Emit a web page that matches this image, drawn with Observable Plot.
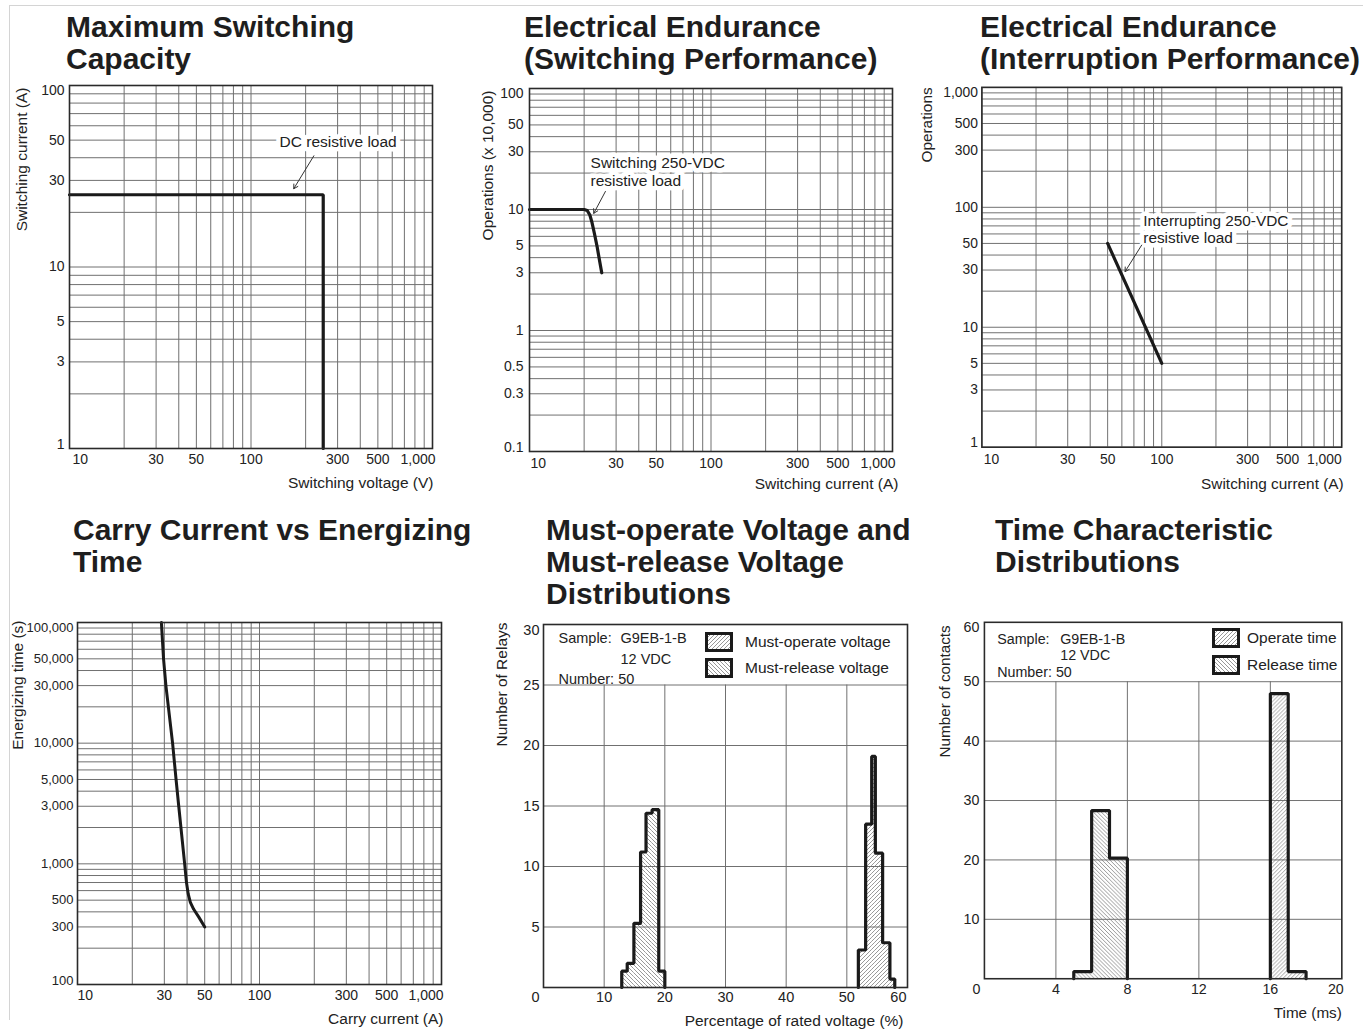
<!DOCTYPE html>
<html><head><meta charset="utf-8">
<script src="https://cdn.jsdelivr.net/npm/d3@7"></script>
<script src="https://cdn.jsdelivr.net/npm/@observablehq/plot@0.6"></script>
<style>
html,body{margin:0;padding:0;background:#fff;overflow:hidden;}
#page{position:relative;width:1363px;height:1031px;overflow:hidden;font-family:"Liberation Sans",Arial,sans-serif;color:#222;}
.title{position:absolute;font-weight:bold;font-size:30px;line-height:32px;white-space:nowrap;color:#1e1e1e;}
.panel{position:absolute;line-height:0;}
.leg{position:absolute;font-size:15.5px;line-height:18px;white-space:nowrap;color:#222;}
.sw{position:absolute;width:28px;height:20px;}
.border{position:absolute;left:9px;top:5px;width:1354px;height:1014px;border-left:1px solid #d4d4d4;border-top:1px solid #d4d4d4;}
</style></head>
<body>
<svg width="0" height="0" style="position:absolute">
  <defs>
    <pattern id="hatchF" patternUnits="userSpaceOnUse" width="4" height="4">
      <rect width="4" height="4" fill="#fff"/>
      <path d="M-1,1 l2,-2 M0,4 l4,-4 M3,5 l2,-2" stroke="#8c8c8c" stroke-width="0.9"/>
    </pattern>
    <pattern id="hatchB" patternUnits="userSpaceOnUse" width="4" height="4">
      <rect width="4" height="4" fill="#fff"/>
      <path d="M-1,3 l2,2 M0,0 l4,4 M3,-1 l2,2" stroke="#8c8c8c" stroke-width="0.9"/>
    </pattern>
  </defs>
</svg>
<div id="page"><div class="border"></div></div>
<script>
// ================= DATA =================
// Panel 1: Maximum Switching Capacity
const p1Title = ["Maximum Switching", "Capacity"];
const p1XDomain = [10, 1000];
const p1YDomain = [1, 100];
const p1XTicks = [10, 30, 50, 100, 300, 500, 1000];
const p1YTicks = [1, 3, 5, 10, 30, 50, 100];
const p1Voltage = [10, 250, 250];
const p1Current = [25, 25, 1];
const p1Note = "DC resistive load";
const p1NoteAt = [302, 49.4];
const p1Arrow = [222, 41, 172, 27];
const p1XLabel = "Switching voltage (V)";
const p1YLabel = "Switching current (A)";

// Panel 2: Electrical Endurance (Switching Performance)
const p2Title = ["Electrical Endurance", "(Switching Performance)"];
const p2XDomain = [10, 1000];
const p2YDomain = [0.1, 100];
const p2XTicks = [10, 30, 50, 100, 300, 500, 1000];
const p2YTicks = [0.1, 0.3, 0.5, 1, 3, 5, 10, 30, 50, 100];
const p2Current = [10, 20, 20.8, 21.5, 22.1, 22.8, 23.6, 24.3, 25];
const p2Operations = [10, 10, 9.8, 9.0, 7.8, 6.3, 4.9, 3.8, 3];
const p2Note = "Switching 250-VDC\nresistive load";
const p2NoteAt = [21.7, 20.6];
const p2Arrow = [26.2, 14.1, 22.6, 9.3];
const p2XLabel = "Switching current (A)";
const p2YLabel = "Operations (x 10,000)";

// Panel 3: Electrical Endurance (Interruption Performance)
const p3Title = ["Electrical Endurance", "(Interruption Performance)"];
const p3XDomain = [10, 1000];
const p3YDomain = [1, 1000];
const p3XTicks = [10, 30, 50, 100, 300, 500, 1000];
const p3YTicks = [1, 3, 5, 10, 30, 50, 100, 300, 500, 1000];
const p3Current = [50, 100];
const p3Operations = [50, 5];
const p3Note = "Interrupting 250-VDC\nresistive load";
const p3NoteAt = [78.9, 65.7];
const p3Arrow = [77.3, 48.4, 62.5, 29.1];
const p3XLabel = "Switching current (A)";
const p3YLabel = "Operations";

// Panel 4: Carry Current vs Energizing Time
const p4Title = ["Carry Current vs Energizing", "Time"];
const p4XDomain = [10, 1000];
const p4YDomain = [100, 100000];
const p4XTicks = [10, 30, 50, 100, 300, 500, 1000];
const p4YTicks = [100, 300, 500, 1000, 3000, 5000, 10000, 30000, 50000, 100000];
const p4Current = [28.9, 29.7, 30.6, 33.3, 34.8, 36, 38.8, 39.7, 40.6, 41.7, 43.5, 46.5, 50];
const p4Time = [100000, 50000, 30000, 10000, 5000, 3000, 1000, 700, 560, 480, 420, 360, 300];
const p4XLabel = "Carry current (A)";
const p4YLabel = "Energizing time (s)";

// Panel 5: Must-operate / Must-release voltage distributions
const p5Title = ["Must-operate Voltage and", "Must-release Voltage", "Distributions"];
const p5XDomain = [0, 60];
const p5YDomain = [0, 30];
const p5XTicks = [0, 10, 20, 30, 40, 50, 60];
const p5YTicks = [5, 10, 15, 20, 25, 30];
const p5GridX = [10, 20, 30, 40, 50];
const p5GridY = [5, 10, 15, 20, 25];
const p5GridTop = 25;
const p5ReleaseEdges = [12.9, 13.8, 14.9, 16.0, 16.9, 17.9, 19.0, 20.0];
const p5ReleaseCounts = [1.35, 2.0, 5.3, 11.2, 14.4, 14.7, 1.35];
const p5OperateEdges = [51.9, 53.1, 54.1, 54.7, 55.9, 57.1, 57.9];
const p5OperateCounts = [3.1, 13.5, 19.1, 11.1, 3.7, 0.7];
const p5Legend = ["Must-operate voltage", "Must-release voltage"];
const p5XLabel = "Percentage of rated voltage (%)";
const p5YLabel = "Number of Relays";

// Panel 6: Time characteristic distributions
const p6Title = ["Time Characteristic", "Distributions"];
const p6XDomain = [0, 20];
const p6YDomain = [0, 60];
const p6XTicks = [0, 4, 8, 12, 16, 20];
const p6YTicks = [10, 20, 30, 40, 50, 60];
const p6GridX = [4, 8, 12, 16];
const p6GridY = [10, 20, 30, 40, 50];
const p6GridTop = 50;
const p6ReleaseEdges = [5, 6, 7, 8];
const p6ReleaseCounts = [1.2, 28.3, 20.3];
const p6OperateEdges = [16, 17, 18];
const p6OperateCounts = [48, 1.2];
const p6Legend = ["Operate time", "Release time"];
const p6XLabel = "Time (ms)";
const p6YLabel = "Number of contacts";

const sampleLines = ["Sample:", "G9EB-1-B", "12 VDC", "Number: 50"];

// ================= HELPERS =================
const ML = 70, MT = 12, MR = 22, MB = 52;
const fmt = d3.format(",");
const GRID = "#707070";
const INK = "#1a1a1a";
const TXT = "#222";
const page = document.getElementById("page");

function addTitle(lines, x, y) {
  const d = document.createElement("div");
  d.className = "title";
  d.style.left = x + "px"; d.style.top = y + "px";
  d.innerHTML = lines.join("<br>");
  page.appendChild(d);
}
function addPlot(svg, frameLeft, frameTop) {
  const d = document.createElement("div");
  d.className = "panel";
  d.style.left = (frameLeft - ML) + "px"; d.style.top = (frameTop - MT) + "px";
  d.appendChild(svg);
  page.appendChild(d);
}
function addLegend(items, patterns, swLeft, swTops, textLeft) {
  items.forEach((t, i) => {
    const s = document.createElement("div");
    s.className = "sw";
    s.style.left = swLeft + "px"; s.style.top = swTops[i] + "px";
    s.innerHTML = `<svg width="28" height="20"><rect x="1.5" y="1.5" width="25" height="17" fill="url(#${patterns[i]})" stroke="${INK}" stroke-width="3"/></svg>`;
    page.appendChild(s);
    const l = document.createElement("div");
    l.className = "leg";
    l.style.left = textLeft + "px"; l.style.top = (swTops[i] + 1) + "px";
    l.textContent = t;
    page.appendChild(l);
  });
}
function xTickText(ticks, o = {}) {
  const {dy = 11, firstAnchor = "start", lastAnchor = "end", firstDx = 0, lastDx = 0, fontSize = 14, fontFamily} = o;
  const c = {x: d => d, frameAnchor: "bottom", dy, lineAnchor: "middle", text: d => fmt(d), fontSize, fill: TXT};
  if (fontFamily) c.fontFamily = fontFamily;
  return [
    Plot.text(ticks.slice(0, 1), {...c, textAnchor: firstAnchor, dx: firstDx}),
    Plot.text(ticks.slice(1, -1), {...c, textAnchor: "middle"}),
    Plot.text(ticks.slice(-1), {...c, textAnchor: lastAnchor, dx: lastDx})
  ];
}
function yTickText(ticks, o = {}) {
  const {dx = -5, firstAnchor = "bottom", lastAnchor = "top", fontSize = 14, fontFamily} = o;
  const c = {y: d => d, frameAnchor: "left", dx, textAnchor: "end", text: d => fmt(d), fontSize, fill: TXT};
  if (fontFamily) c.fontFamily = fontFamily;
  return [
    Plot.text(ticks.slice(0, 1), {...c, lineAnchor: firstAnchor}),
    Plot.text(ticks.slice(1, -1), {...c, lineAnchor: "middle"}),
    Plot.text(ticks.slice(-1), {...c, lineAnchor: lastAnchor})
  ];
}
function yLabel(text, dx, dy) {
  return Plot.text([text], {text: d => d, frameAnchor: "top-left", rotate: -90, textAnchor: "end", lineAnchor: "middle", dx, dy, fontSize: 15.5, fill: TXT});
}
function xLabel(text, dx, dy) {
  return Plot.text([text], {text: d => d, frameAnchor: "bottom-right", textAnchor: "end", lineAnchor: "middle", dx, dy, fontSize: 15.5, fill: TXT});
}
function rows(xs, ys) { return xs.map((x, i) => ({x, y: ys[i]})); }
function note(text, at, anchor) {
  return Plot.text([text], {x: () => at[0], y: () => at[1], text: d => d, textAnchor: anchor, lineAnchor: "middle",
    lineHeight: 1.1, fontSize: 15.5, fill: TXT, stroke: "white", strokeWidth: 9});
}
function arrow(a) {
  return Plot.arrow([a], {x1: d => d[0], y1: d => d[1], x2: d => d[2], y2: d => d[3], stroke: "#333", strokeWidth: 1, headLength: 7});
}
function base(fw, fh, xScale, yScale, marks) {
  return Plot.plot({
    width: ML + fw + MR, height: MT + fh + MB,
    marginLeft: ML, marginRight: MR, marginTop: MT, marginBottom: MB,
    x: {...xScale, axis: null}, y: {...yScale, axis: null},
    style: {fontFamily: '"Liberation Sans", Arial, sans-serif', fontSize: "14px", color: TXT, background: "transparent", overflow: "visible"},
    marks
  });
}
function logGrid(xd, yd) {
  return [
    Plot.ruleX(d3.scaleLog().domain(xd).ticks(), {x: d => d, stroke: GRID, strokeWidth: 1}),
    Plot.ruleY(d3.scaleLog().domain(yd).ticks(), {y: d => d, stroke: GRID, strokeWidth: 1})
  ];
}
function bins(edges, counts) { return counts.map((c, i) => ({x1: edges[i], x2: edges[i + 1], y: c})); }
function outline(edges, counts) {
  const pts = [{x: edges[0], y: 0}];
  counts.forEach((c, i) => pts.push({x: edges[i], y: c}, {x: edges[i + 1], y: c}));
  pts.push({x: edges[edges.length - 1], y: 0});
  return pts;
}
function sampleText(pos) {
  return sampleLines.map((t, i) => Plot.text([t], {text: d => d, frameAnchor: "top-left", textAnchor: "start", lineAnchor: "middle",
    dx: pos[i][0], dy: pos[i][1], fontSize: 14.5, fill: TXT}));
}
const frame = Plot.frame({stroke: "#2a2a2a", strokeWidth: 1.6});

// ================= PANEL 1 =================
addTitle(p1Title, 66, 11);
addPlot(base(363, 363, {type: "log", domain: p1XDomain}, {type: "log", domain: p1YDomain}, [
  ...logGrid(p1XDomain, p1YDomain),
  Plot.line(rows(p1Voltage, p1Current), {x: "x", y: "y", stroke: INK, strokeWidth: 3.2, strokeLinejoin: "miter"}),
  note(p1Note, p1NoteAt, "middle"),
  arrow(p1Arrow),
  frame,
  ...xTickText(p1XTicks, {dy: 11, firstDx: 3, lastDx: 3}),
  ...yTickText(p1YTicks, {dx: -5}),
  xLabel(p1XLabel, 1, 35),
  yLabel(p1YLabel, -47, 2)
]), 69, 85);

// ================= PANEL 2 =================
addTitle(p2Title, 524, 11);
addPlot(base(363, 363, {type: "log", domain: p2XDomain}, {type: "log", domain: p2YDomain}, [
  ...logGrid(p2XDomain, p2YDomain),
  Plot.line(rows(p2Current, p2Operations), {x: "x", y: "y", stroke: INK, strokeWidth: 3.2}),
  note(p2Note, p2NoteAt, "start"),
  arrow(p2Arrow),
  frame,
  ...xTickText(p2XTicks, {dy: 12, firstDx: 1, lastDx: 3}),
  ...yTickText(p2YTicks, {dx: -6}),
  xLabel(p2XLabel, 6, 33),
  yLabel(p2YLabel, -41, 2)
]), 529, 88);

// ================= PANEL 3 =================
addTitle(p3Title, 980, 11);
addPlot(base(363, 363, {type: "log", domain: p3XDomain}, {type: "log", domain: p3YDomain}, [
  ...logGrid(p3XDomain, p3YDomain),
  Plot.line(rows(p3Current, p3Operations), {x: "x", y: "y", stroke: INK, strokeWidth: 3.2}),
  note(p3Note, p3NoteAt, "start"),
  arrow(p3Arrow),
  frame,
  ...xTickText(p3XTicks, {dy: 12, firstDx: 2, lastDx: 0}),
  ...yTickText(p3YTicks, {dx: -4}),
  xLabel(p3XLabel, 2, 37),
  yLabel(p3YLabel, -55, 0)
]), 982, 87);

// ================= PANEL 4 =================
addTitle(p4Title, 73, 514);
const narrow = '"Liberation Sans Narrow", "Liberation Sans", Arial, sans-serif';
addPlot(base(364, 362, {type: "log", domain: p4XDomain}, {type: "log", domain: p4YDomain}, [
  ...logGrid(p4XDomain, p4YDomain),
  Plot.line(rows(p4Current, p4Time), {x: "x", y: "y", stroke: INK, strokeWidth: 3}),
  frame,
  ...xTickText(p4XTicks, {dy: 11, firstDx: 0, lastDx: 2}),
  ...yTickText(p4YTicks, {dx: -4, fontSize: 13, fontFamily: narrow}),
  xLabel(p4XLabel, 2, 35),
  yLabel(p4YLabel, -59, -2)
]), 77, 622);

// ================= PANEL 5 =================
addTitle(p5Title, 546, 514);
addPlot(base(364, 363, {type: "linear", domain: p5XDomain}, {type: "linear", domain: p5YDomain}, [
  Plot.rect(bins(p5ReleaseEdges, p5ReleaseCounts), {x1: "x1", x2: "x2", y1: () => 0, y2: "y", fill: "url(#hatchB)"}),
  Plot.rect(bins(p5OperateEdges, p5OperateCounts), {x1: "x1", x2: "x2", y1: () => 0, y2: "y", fill: "url(#hatchF)"}),
  Plot.ruleX(p5GridX, {x: d => d, y1: () => 0, y2: () => p5GridTop, stroke: GRID, strokeWidth: 1}),
  Plot.ruleY(p5GridY, {y: d => d, stroke: GRID, strokeWidth: 1}),
  Plot.line(outline(p5ReleaseEdges, p5ReleaseCounts), {x: "x", y: "y", stroke: INK, strokeWidth: 3.2, strokeLinejoin: "miter"}),
  Plot.line(outline(p5OperateEdges, p5OperateCounts), {x: "x", y: "y", stroke: INK, strokeWidth: 3.2, strokeLinejoin: "miter"}),
  frame,
  ...sampleText([[15, 14], [77, 14], [77, 35], [15, 55]]),
  ...xTickText(p5XTicks, {dy: 10, firstAnchor: "middle", firstDx: -8, lastAnchor: "end", lastDx: -1, fontSize: 14.5}),
  ...yTickText(p5YTicks, {dx: -4, firstAnchor: "middle", fontSize: 14.5}),
  xLabel(p5XLabel, -4, 34),
  yLabel(p5YLabel, -41, -2)
]), 543, 624);
addLegend(p5Legend, ["hatchF", "hatchB"], 705, [632, 658], 745);

// ================= PANEL 6 =================
addTitle(p6Title, 995, 514);
addPlot(base(363, 362, {type: "linear", domain: p6XDomain}, {type: "linear", domain: p6YDomain}, [
  Plot.rect(bins(p6ReleaseEdges, p6ReleaseCounts), {x1: "x1", x2: "x2", y1: () => 0, y2: "y", fill: "url(#hatchB)"}),
  Plot.rect(bins(p6OperateEdges, p6OperateCounts), {x1: "x1", x2: "x2", y1: () => 0, y2: "y", fill: "url(#hatchF)"}),
  Plot.ruleX(p6GridX, {x: d => d, y1: () => 0, y2: () => p6GridTop, stroke: GRID, strokeWidth: 1}),
  Plot.ruleY(p6GridY, {y: d => d, stroke: GRID, strokeWidth: 1}),
  Plot.line(outline(p6ReleaseEdges, p6ReleaseCounts), {x: "x", y: "y", stroke: INK, strokeWidth: 3.2, strokeLinejoin: "miter"}),
  Plot.line(outline(p6OperateEdges, p6OperateCounts), {x: "x", y: "y", stroke: INK, strokeWidth: 3.2, strokeLinejoin: "miter"}),
  frame,
  ...sampleText([[13, 17], [77, 17], [77, 34], [13, 51]]),
  ...xTickText(p6XTicks, {dy: 11, firstAnchor: "middle", firstDx: -8, lastAnchor: "end", lastDx: 2, fontSize: 14.5}),
  ...yTickText(p6YTicks, {dx: -5, firstAnchor: "middle", fontSize: 14.5}),
  xLabel(p6XLabel, 0, 35),
  yLabel(p6YLabel, -40, 3)
]), 985, 622);
addLegend(p6Legend, ["hatchF", "hatchB"], 1212, [628, 655], 1247);
</script>
</body></html>
